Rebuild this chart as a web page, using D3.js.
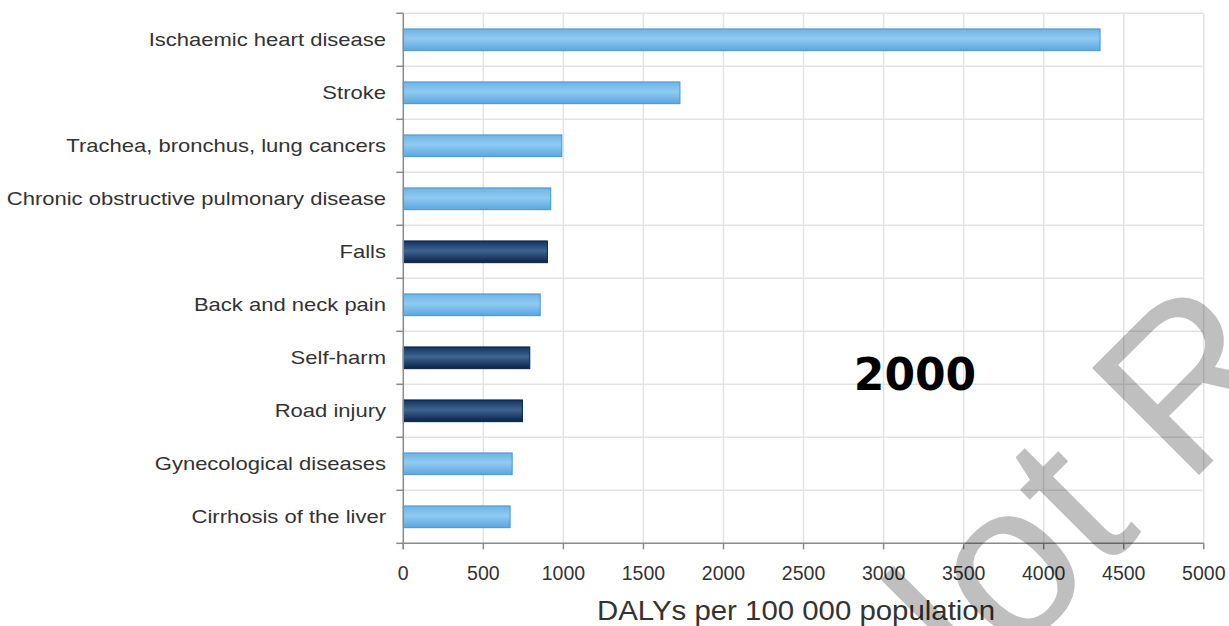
<!DOCTYPE html>
<html>
<head>
<meta charset="utf-8">
<script src="https://cdn.jsdelivr.net/npm/d3@7"></script>
<style>
  html, body { margin: 0; padding: 0; background: #fff; }
  svg { display: block; }
</style>
</head>
<body>
<svg id="chart" width="1229" height="626"></svg>
<script>
// Leading causes of DALYs, year 2000
const categories = [
  "Ischaemic heart disease",
  "Stroke",
  "Trachea, bronchus, lung cancers",
  "Chronic obstructive pulmonary disease",
  "Falls",
  "Back and neck pain",
  "Self-harm",
  "Road injury",
  "Gynecological diseases",
  "Cirrhosis of the liver"
];
const dalys = [4352, 1728, 990, 921, 900, 855, 790, 744, 680, 667];
// injury causes are drawn in the dark colour
const groups = ["ncd", "ncd", "ncd", "ncd", "injury", "ncd", "injury", "injury", "ncd", "ncd"];
const xTicks = [0, 500, 1000, 1500, 2000, 2500, 3000, 3500, 4000, 4500, 5000];
const xLabel = "DALYs per 100 000 population";
const yearLabel = "2000";
const stampText = "Not Reviewed";

const svg = d3.select("#chart");
const plotLeft = 403.3, plotRight = 1203.8, plotTop = 13.3, plotBottom = 543.3;

const x = d3.scaleLinear().domain([0, 5000]).range([plotLeft, plotRight]);
const y = d3.scaleBand().domain(categories).range([plotTop, plotBottom])
  .paddingInner(0.59).paddingOuter(0.295);

// bar gradients
const defs = svg.append("defs");
function grad(id, stops) {
  const g = defs.append("linearGradient").attr("id", id)
    .attr("x1", 0).attr("y1", 0).attr("x2", 0).attr("y2", 1);
  stops.forEach(([o, c]) => g.append("stop").attr("offset", o).attr("stop-color", c));
}
grad("gLight", [[0, "#6db4e6"], [0.45, "#8fcaf1"], [1, "#5aa6de"]]);
grad("gDark", [[0, "#12335f"], [0.45, "#3f6490"], [1, "#08224b"]]);

// grid
const step = y.step();
const boundaries = d3.range(categories.length + 1).map(i => plotTop + i * step);
svg.append("g").selectAll("line").data(boundaries.slice(0, -1)).join("line")
  .attr("x1", plotLeft).attr("x2", plotRight).attr("y1", d => d).attr("y2", d => d)
  .attr("stroke", "#e3e3e3").attr("stroke-width", 1.5);
svg.append("g").selectAll("line").data(xTicks.slice(1)).join("line")
  .attr("x1", d => x(d)).attr("x2", d => x(d)).attr("y1", plotTop).attr("y2", plotBottom)
  .attr("stroke", "#e3e3e3").attr("stroke-width", 1.5);

// bars
svg.append("g").selectAll("rect").data(categories).join("rect")
  .attr("x", x(0))
  .attr("y", d => y(d))
  .attr("width", (d, i) => x(dalys[i]) - x(0))
  .attr("height", y.bandwidth())
  .attr("fill", (d, i) => groups[i] === "injury" ? "url(#gDark)" : "url(#gLight)")
  .attr("stroke", (d, i) => groups[i] === "injury" ? "#0a2148" : "#4a93cc")
  .attr("stroke-width", 1);

// axes
const axisColor = "#8a8a8a";
svg.append("line").attr("x1", plotLeft).attr("x2", plotLeft).attr("y1", plotTop).attr("y2", plotBottom + 6)
  .attr("stroke", axisColor).attr("stroke-width", 1.5);
svg.append("g").selectAll("line").data(boundaries).join("line")
  .attr("x1", plotLeft - 7).attr("x2", plotLeft).attr("y1", d => d).attr("y2", d => d)
  .attr("stroke", axisColor).attr("stroke-width", 1.5);
svg.append("line").attr("x1", plotLeft).attr("x2", plotRight).attr("y1", plotBottom).attr("y2", plotBottom)
  .attr("stroke", axisColor).attr("stroke-width", 1.5);
svg.append("g").selectAll("line").data(xTicks).join("line")
  .attr("x1", d => x(d)).attr("x2", d => x(d)).attr("y1", plotBottom).attr("y2", plotBottom + 6)
  .attr("stroke", axisColor).attr("stroke-width", 1.5);

// category labels (slightly widened glyphs)
svg.append("g").selectAll("text").data(categories).join("text")
  .attr("transform", d => `translate(386,${y(d) + y.bandwidth() / 2}) scale(1.19,1)`)
  .attr("dy", "0.36em").attr("text-anchor", "end")
  .attr("font-family", "Liberation Sans, Arial, sans-serif").attr("font-size", 18.5)
  .attr("fill", "#333").text(d => d);

// x tick labels
svg.append("g").selectAll("text").data(xTicks).join("text")
  .attr("x", d => x(d)).attr("y", 580).attr("text-anchor", "middle")
  .attr("font-family", "Liberation Sans, Arial, sans-serif").attr("font-size", 19.5)
  .attr("fill", "#333").text(d => d);

// axis title
svg.append("text").attr("transform", "translate(796,620) scale(1.05,1)").attr("text-anchor", "middle")
  .attr("font-family", "Liberation Sans, Arial, sans-serif").attr("font-size", 28)
  .attr("fill", "#333").text(xLabel);

// year label
svg.append("text").attr("x", 915).attr("y", 390).attr("text-anchor", "middle")
  .attr("font-family", "DejaVu Sans, sans-serif").attr("font-weight", "bold").attr("font-size", 44)
  .attr("fill", "#000").text(yearLabel);

// diagonal stamp
svg.append("text")
  .attr("transform", "translate(901,773) rotate(-45)")
  .attr("font-family", "Liberation Sans, Arial, sans-serif").attr("font-size", 220)
  .attr("fill", "#000").attr("fill-opacity", 0.25)
  .text(stampText);
</script>
</body>
</html>
